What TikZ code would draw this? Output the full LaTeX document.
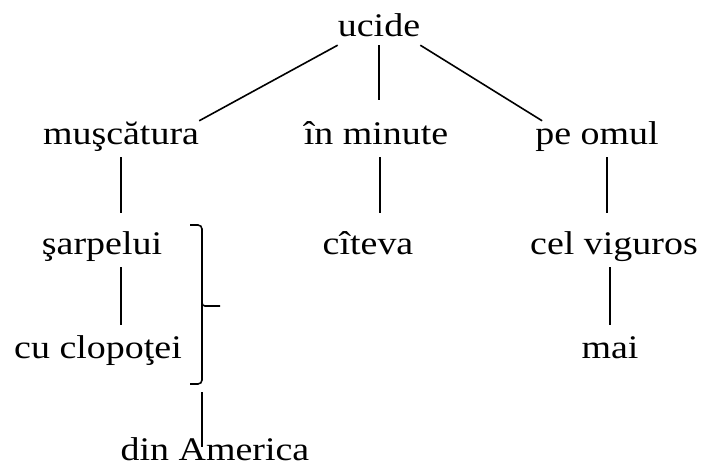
\documentclass[tikz,border=0pt]{standalone}
\usepackage{fontspec}
\setmainfont{Liberation Serif}[FakeStretch=1.15]
\tikzset{
  word/.style={anchor=base, inner sep=0pt, text height=24pt, text depth=8pt,
    font=\fontsize{33}{40}\selectfont},
  link/.style={line width=1.6pt},
  down/.style={link, shorten <=4pt, shorten >=17pt},
  lower/.style={link, shorten <=5pt, shorten >=9pt}
}
\begin{document}
\begin{tikzpicture}[x=1pt, y=-1pt]
    \useasboundingbox (0, 0) rectangle (708, 470);
    % words of the tree
    \node[word] (ucide) at (379, 37) {ucide};
    \node[word] (muscatura) at (121, 145) {muşcătura};
    \node[word] (inminute) at (376, 145) {în minute};
    \node[word] (peomul) at (597, 145) {pe omul};
    \node[word] (sarpelui) at (102, 254) {şarpelui};
    \node[word] (citeva) at (368, 254) {cîteva};
    \node[word] (celviguros) at (614, 254) {cel viguros};
    \node[word] (clopotei) at (98, 358) {cu clopoţei};
    \node[word] (mai) at (610, 358) {mai};
    \node[word] (america) at (215, 460) {din America};

    % links from the top
    \draw[link] (ucide.south west) -- (muscatura.north east);
    \draw[link, shorten >=21pt] (ucide.south) -- (ucide.south |- inminute.north);
    \draw[link] (ucide.south east) -- ([xshift=7pt]peomul.north west);

    % links below
    \draw[down] (muscatura.south) -- (muscatura.south |- sarpelui.north);
    \draw[down] ([xshift=4pt]inminute.south) -- ([xshift=4pt]inminute.south |- citeva.north);
    \draw[down] ([xshift=10pt]peomul.south) -- ([xshift=10pt]peomul.south |- celviguros.north);
    \draw[lower] (sarpelui.south -| muscatura.south) -- (clopotei.north -| muscatura.south);
    \draw[lower] (celviguros.south -| mai.north) -- (mai.north);

    % bracket over the two words
    \coordinate (brtop) at (190, 225);
    \coordinate (brbot) at (190, 384);
    \coordinate (brtip) at (220, 306);
    \coordinate (brfoot) at (202, 392);
    \draw[link, rounded corners=4pt] (brtop) -- ++(12, 0) -- ([xshift=12pt]brbot) -- (brbot);
    \draw[link, rounded corners=3pt] (202, 300) -- (202, 306) -- (brtip);
    \draw[link, rounded corners=3pt] (202, 312) -- (202, 306);
    \draw[link, shorten >=13pt] (brfoot) -- (brfoot |- america.base);
\end{tikzpicture}
\end{document}
